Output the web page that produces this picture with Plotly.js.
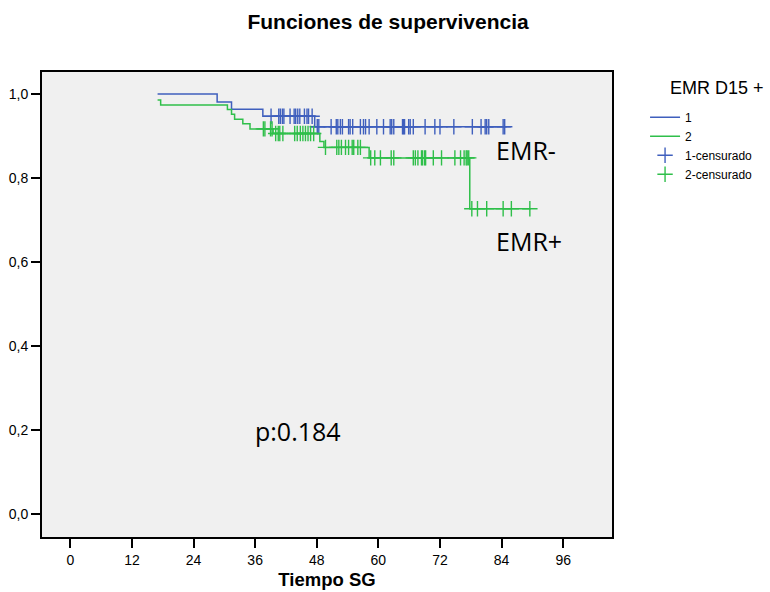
<!DOCTYPE html>
<html>
<head>
<meta charset="utf-8">
<script src="https://cdn.plot.ly/plotly-3.0.1.min.js"></script>
<style>html,body{margin:0;padding:0;background:#fff;}#chart{width:770px;height:592px;}</style>
</head>
<body>
<div id="chart"></div>
<script>
// Kaplan-Meier step curves (time in months, survival)
const g1Times = [17, 28.6, 31.4, 37.5, 47.6, 85.0];
const g1Surv  = [1.0, 0.981, 0.964, 0.947, 0.922, 0.922];
const g2Times = [17, 17.6, 30.6, 31.4, 32.0, 33.6, 35.0, 39.5, 48.6, 49.4, 58.2, 77.8, 89.7];
const g2Surv  = [0.986, 0.974, 0.963, 0.952, 0.940, 0.929, 0.917, 0.906, 0.887, 0.873, 0.848, 0.727, 0.727];

// Censored observation times
const g1Censored = [39.1, 40.6, 40.9, 41.3, 41.6, 42.8, 43.6, 43.9, 44.3, 44.7, 45.6, 46.1, 46.4, 47.1,
  48.1, 48.4, 50.8, 51.8, 52.1, 52.6, 53.0, 54.2, 54.5, 55.0, 56.5, 57.1, 57.5, 58.2, 59.7, 61.0,
  62.3, 62.6, 63.0, 64.7, 64.9, 65.1, 65.9, 66.2, 66.8, 69.1, 71.0, 72.0, 74.7, 78.3, 80.0, 80.8,
  81.1, 81.5, 84.3, 84.6];
const g2Censored = [37.6, 37.9, 39.0, 39.3, 40.0, 40.5, 40.8, 41.4, 43.7, 44.2, 44.8, 45.3, 45.8, 46.3,
  46.8, 47.4, 49.7, 51.9, 52.3, 52.8, 53.6, 54.2, 54.9, 55.2, 56.0, 56.5, 58.5, 59.3, 60.4, 62.5,
  63.0, 66.8, 67.2, 67.7, 68.4, 68.6, 69.0, 69.2, 70.7, 72.3, 74.9, 76.0, 76.7, 77.1, 77.3, 77.6,
  78.2, 79.3, 81.1, 84.3, 85.9, 89.5];

const xTicks = [0, 12, 24, 36, 48, 60, 72, 84, 96];
const yTicks = [0, 0.2, 0.4, 0.6, 0.8, 1.0];
const yTickLabels = ["0,0", "0,2", "0,4", "0,6", "0,8", "1,0"];
const groupNames = ["1", "2", "1-censurado", "2-censurado"];
const legendTitle = "EMR D15 +";

function stepAt(times, surv, t) {
  let v = surv[0];
  for (let i = 0; i < times.length; i++) { if (times[i] <= t) v = surv[i]; }
  return v;
}

const blue = '#3f5fbd';
const green = '#2fbf4a';

const traces = [
  {x: g1Times, y: g1Surv, mode: 'lines', line: {shape: 'hv', color: blue, width: 1.5}, name: groupNames[0]},
  {x: g2Times, y: g2Surv, mode: 'lines', line: {shape: 'hv', color: green, width: 1.5}, name: groupNames[1]},
  {x: g1Censored, y: g1Censored.map(t => stepAt(g1Times, g1Surv, t)), mode: 'markers',
   marker: {symbol: 'cross-thin', size: 11, line: {color: blue, width: 1.4}, color: blue}, name: groupNames[2]},
  {x: g2Censored, y: g2Censored.map(t => stepAt(g2Times, g2Surv, t)), mode: 'markers',
   marker: {symbol: 'cross-thin', size: 11, line: {color: green, width: 1.4}, color: green}, name: groupNames[3]}
];

const layout = {
  width: 770, height: 592,
  margin: {l: 42, r: 155, t: 72, b: 55},
  paper_bgcolor: '#ffffff',
  plot_bgcolor: '#f0f0f0',
  font: {family: 'Liberation Sans, Arial, sans-serif', color: '#000'},
  title: {text: '<b>Funciones de supervivencia</b>', x: 0.504, xanchor: 'center', y: 0.964, yanchor: 'middle',
          font: {size: 21, color: '#000', family: 'Liberation Sans, Arial, sans-serif'}},
  xaxis: {
    range: [-5.51, 105.5], tickvals: xTicks, ticktext: xTicks.map(String),
    ticks: 'outside', ticklen: 9, tickwidth: 2, tickcolor: '#000',
    showline: true, linecolor: '#000', linewidth: 2, mirror: true,
    showgrid: false, zeroline: false,
    tickfont: {size: 14, color: '#000'},
    title: {text: '<b>Tiempo SG</b>', font: {size: 18.5, color: '#000'}, standoff: 6}
  },
  yaxis: {
    range: [-0.0548, 1.0525], tickvals: yTicks, ticktext: yTickLabels,
    ticks: 'outside', ticklen: 9, tickwidth: 2, tickcolor: '#000',
    showline: true, linecolor: '#000', linewidth: 2, mirror: true,
    showgrid: false, zeroline: false,
    tickfont: {size: 14, color: '#000'}
  },
  showlegend: true,
  legend: {
    x: 1.058, xanchor: 'left', y: 0.934, yanchor: 'top',
    bgcolor: 'rgba(0,0,0,0)',
    font: {size: 12, color: '#000'},
    tracegroupgap: 0, itemwidth: 30
  },
  annotations: [
    {x: 1.098, y: 0.966, xref: 'paper', yref: 'paper', xanchor: 'left', yanchor: 'middle',
     text: legendTitle, showarrow: false,
     font: {family: 'Liberation Sans, Arial, sans-serif', size: 18, color: '#000'}},
    {x: 88.8, y: 0.866, xref: 'x', yref: 'y', text: 'EMR-', showarrow: false,
     font: {family: 'Open Sans, sans-serif', size: 25, color: '#000'}},
    {x: 89.4, y: 0.651, xref: 'x', yref: 'y', text: 'EMR+', showarrow: false,
     font: {family: 'Open Sans, sans-serif', size: 25, color: '#000'}},
    {x: 44.3, y: 0.197, xref: 'x', yref: 'y', text: 'p:0.184', showarrow: false,
     font: {family: 'Open Sans, sans-serif', size: 25, color: '#000'}}
  ]
};

Plotly.newPlot('chart', traces, layout, {displayModeBar: false, staticPlot: true});
</script>
</body>
</html>
